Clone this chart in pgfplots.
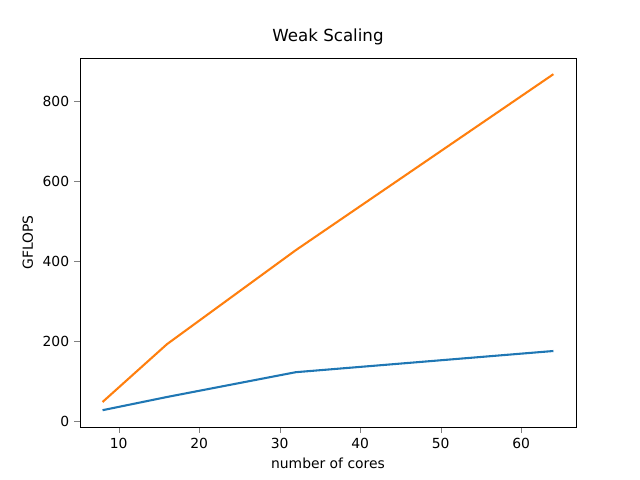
\documentclass[border=0pt]{standalone}
\usepackage{pgfplots}
\pgfplotsset{compat=1.18}
\usepackage{fontspec}
\setmainfont{DejaVu Sans}
\definecolor{c0}{HTML}{1F77B4}
\definecolor{c1}{HTML}{FF7F0E}
\begin{document}
\begin{tikzpicture}[x=1pt,y=1pt]
\path[use as bounding box] (0,0) rectangle (460.8,345.6);
\begin{axis}[at={(57.6pt,38.16pt)},anchor=south west,scale only axis,
width=357.1pt,height=265.7pt,
xmin=5.2,xmax=66.8,ymin=-15,ymax=907.5,
xtick={10,20,30,40,50,60},ytick={0,200,400,600,800},
tick align=outside,tick pos=left,
/pgf/number format/assume math mode=true,
ticklabel style={font=\fontsize{10}{12}\selectfont},
label style={font=\fontsize{10}{12}\selectfont},
title style={font=\fontsize{12}{14}\selectfont},
title={Weak Scaling},xlabel={number of cores},ylabel={GFLOPS}]
\addplot[c0,line width=1.5pt,no marks] coordinates {(8,27) (16,60) (32,122) (64,175)};
\addplot[c1,line width=1.5pt,no marks] coordinates {(8,47.5) (16,192) (32,427) (64,867)};
\end{axis}
\end{tikzpicture}
\end{document}
